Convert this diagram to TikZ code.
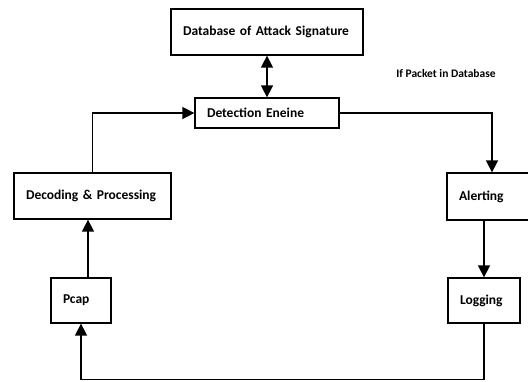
\documentclass[tikz,border=0pt]{standalone}
\usepackage{fontspec}
\setmainfont{Carlito}
\usetikzlibrary{arrows.meta,positioning}
\tikzset{every node/.append style={align=center}}
\tikzset{
  blockbox/.style={draw, line width=1.3pt, fill=white, align=left, inner xsep=12pt, inner ysep=0pt, font=\bfseries\fontsize{13.5}{15}\selectfont},
  flowline/.style={line width=1.6pt, -{Triangle[length=12pt,width=12pt]}}
}

\begin{document}
\begin{tikzpicture}[x=1pt, y=-1pt]
        \useasboundingbox (0,0) rectangle (528,381);
        \clip (0,0) rectangle (528,381);

        % Signature store and engine
        \node[blockbox, text width=168pt, minimum height=46pt] (sigdb) at (267,32) {Database of Attack Signature};
        \node[blockbox, text width=120pt, minimum height=30pt] (engine) at (267,113) {Detection Eneine};

        % Left column
        \node[blockbox, text width=133pt, minimum height=46pt] (decode) at (92.5,196) {Decoding \& Processing};
        \node[blockbox, text width=36pt, minimum height=45pt] (pcap) at (81,300.5) {Pcap};

        % Right column
        \node[blockbox, text width=66pt, minimum height=47pt] (alert) at (492,196.5) {Alerting};
        \node[blockbox, text width=48pt, minimum height=45pt] (logging) at (484,300.5) {Logging};

        % Condition note
        \node[font=\bfseries\fontsize{11.5}{13}\selectfont] (cond) at (446,74) {If Packet in Database};

        % Flows
        \draw[flowline, {Triangle[length=12pt,width=12pt]}-{Triangle[length=12pt,width=12pt]}] (sigdb) -- (engine);
        \draw[flowline] (decode.north) |- (engine.west);
        \draw[flowline] (engine.east) -| (alert.north);
        \draw[flowline] (logging.north |- alert.south) -- (logging.north);
        \draw[flowline] ([xshift=7pt]pcap.north) -- ([xshift=7pt]pcap.north |- decode.south);
        \draw[flowline] (logging.south) -- ++(0,56) -| (pcap.south);
    \end{tikzpicture}
\end{document}
